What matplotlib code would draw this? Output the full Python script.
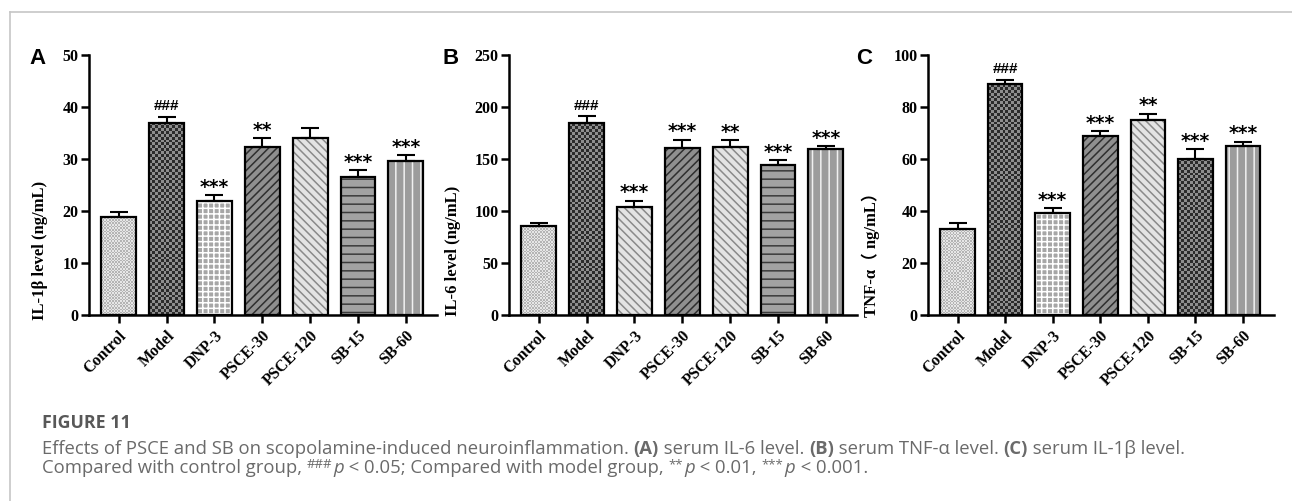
import numpy as np
import matplotlib
matplotlib.use('Agg')
import matplotlib.pyplot as plt
from matplotlib.colors import ListedColormap
from matplotlib.lines import Line2D

# Data
groups = ['Control', 'Model', 'DNP-3', 'PSCE-30', 'PSCE-120', 'SB-15', 'SB-60']

il1b_mean = [18.9, 37.0, 22.0, 32.4, 34.1, 26.6, 29.7]
il1b_err = [1.0, 1.1, 1.0, 1.6, 1.8, 1.2, 1.0]
il1b_sig = ['', '###', '***', '**', '', '***', '***']

il6_mean = [86.0, 184.2, 104.3, 160.1, 161.4, 144.7, 159.8]
il6_err = [2.9, 7.1, 5.5, 8.1, 6.4, 3.9, 2.3]
il6_sig = ['', '###', '***', '***', '**', '***', '***']

tnf_mean = [33.0, 88.7, 39.4, 68.9, 75.0, 60.1, 65.1]
tnf_err = [2.2, 1.7, 1.7, 1.7, 2.5, 3.6, 1.5]
tnf_sig = ['', '###', '***', '***', '**', '***', '***']

# fill styles per bar (panel A, B, C)
styles_a = ['fine', 'checker', 'grid', 'ne', 'nw', 'hline', 'vline']
styles_b = ['fine', 'checker', 'nw', 'ne', 'nw', 'hline', 'vline']
styles_c = ['fine', 'checker', 'grid', 'ne', 'nw', 'checker', 'vline']

plt.rcParams['hatch.linewidth'] = 1.1
serif = 'Liberation Serif'


def pattern_fill(ax, bar, cell_px, c1, c2):
    x0, y0 = bar.get_x(), bar.get_y()
    w, h = bar.get_width(), bar.get_height()
    p0 = ax.transData.transform((x0, y0))
    p1 = ax.transData.transform((x0 + w, y0 + h))
    nx = max(1, int(round((p1[0] - p0[0]) / cell_px)))
    ny = max(1, int(round((p1[1] - p0[1]) / cell_px)))
    grid = np.add.outer(np.arange(ny), np.arange(nx)) % 2
    img = ax.imshow(grid, cmap=ListedColormap([c1, c2]), extent=(x0, x0 + w, y0, y0 + h),
                    origin='lower', interpolation='nearest', aspect='auto', zorder=2)
    img.set_clip_path(bar)


def hatch_bar(ax, x, h, face, hatch, hcolor):
    ax.bar(x, h, width=0.73, color=face, edgecolor=hcolor, hatch=hatch, linewidth=0, zorder=2)


def draw_panel(ax, means, errs, sig, styles, ymax, ystep, ylabel, letter, lx, ylx):
    x = np.arange(len(groups))
    ax.set_xlim(-0.62, 6.65)
    ax.set_ylim(0, ymax)
    outline = ax.bar(x, means, width=0.73, fill=False, edgecolor='black', linewidth=1.6, zorder=4)
    for xi, m, st, b in zip(x, means, styles, outline):
        if st == 'fine':
            pattern_fill(ax, b, 1.6, '#e6e6e6', '#b4b4b4')
        elif st == 'checker':
            pattern_fill(ax, b, 2.9, '#2b2b2b', '#8e8e8e')
        elif st == 'grid':
            hatch_bar(ax, xi, m, '#a6a6a6', '+++', 'white')
        elif st == 'ne':
            hatch_bar(ax, xi, m, '#8f8f8f', '////', '#2e2e2e')
        elif st == 'nw':
            hatch_bar(ax, xi, m, '#e4e4e4', '\\\\\\\\', '#8a8a8a')
        elif st == 'hline':
            hatch_bar(ax, xi, m, '#a2a2a2', '--', '#3a3a3a')
        elif st == 'vline':
            hatch_bar(ax, xi, m, '#9c9c9c', '||', '#f0f0f0')
    ax.errorbar(x, means, yerr=[np.zeros(len(errs)), errs], fmt='none', ecolor='black',
                elinewidth=1.5, capsize=6.5, capthick=1.5, zorder=3)
    for xi, m, e, s in zip(x, means, errs, sig):
        if not s:
            continue
        if s.startswith('#'):
            ax.annotate(s, (xi, m + e), xytext=(0, 2.5), textcoords='offset points',
                        ha='center', va='bottom', fontsize=11, fontweight='bold',
                        fontfamily='Liberation Sans')
        else:
            ax.annotate(s, (xi, m + e), xytext=(0, -1), textcoords='offset points',
                        ha='center', va='bottom', fontsize=13.5, fontweight='bold',
                        fontfamily='DejaVu Sans')

    ax.set_yticks(np.arange(0, ymax + 1, ystep))
    ax.set_xticks(x)
    ax.set_xticklabels(groups, rotation=45, ha='right', rotation_mode='anchor',
                       fontsize=11.5, fontweight='bold', fontfamily=serif)
    for lab in ax.get_yticklabels():
        lab.set_fontsize(11.5)
        lab.set_fontweight('bold')
        lab.set_fontfamily(serif)
    ax.tick_params(axis='both', direction='out', width=1.8, length=6, pad=1.5)
    ax.tick_params(axis='x', pad=3)
    for sp in ['top', 'right']:
        ax.spines[sp].set_visible(False)
    for sp in ['left', 'bottom']:
        ax.spines[sp].set_linewidth(1.8)
    ax.set_ylabel(ylabel, fontsize=12, fontweight='bold', fontfamily=[serif, 'Noto Sans CJK SC'])
    ax.yaxis.set_label_coords(ylx, 0.5, transform=fig.transFigure)
    fig.text(lx, 1 - 58 / 501, letter, fontsize=16, fontweight='bold',
             fontfamily='Liberation Sans', va='center', ha='left')


fig = plt.figure(figsize=(12.92, 5.01), dpi=100)
W, H = 1292, 501
bot = 1 - 315 / H
hgt = 260 / H
ax_a = fig.add_axes([89 / W, bot, 348 / W, hgt])
ax_b = fig.add_axes([509 / W, bot, 348 / W, hgt])
ax_c = fig.add_axes([928 / W, bot, 346 / W, hgt])

draw_panel(ax_a, il1b_mean, il1b_err, il1b_sig, styles_a, 50, 10,
           'IL-1β level (ng/mL)', 'A', 29 / W, 48 / W)
draw_panel(ax_b, il6_mean, il6_err, il6_sig, styles_b, 250, 50,
           'IL-6 level (ng/mL)', 'B', 442 / W, 461 / W)
draw_panel(ax_c, tnf_mean, tnf_err, tnf_sig, styles_c, 100, 20,
           'TNF-α（ ng/mL）', 'C', 856 / W, 880 / W)

# frame lines of the figure box
fig.add_artist(Line2D([10 / W, 1], [1 - 12 / H, 1 - 12 / H], color='#c6c6c6', lw=1.2))
fig.add_artist(Line2D([10 / W, 10 / W], [0, 1 - 12 / H], color='#c6c6c6', lw=1.2))

# caption
cap_color = '#6a6a6a'
cap_size = 13.3
fig.text(42 / W, 1 - 428 / H, 'FIGURE 11', fontsize=12.8, fontweight='bold',
         fontfamily='Open Sans', color='#585858', va='baseline')

renderer = fig.canvas.get_renderer()


def caption_line(x_px, base_px, pieces):
    # lay out mixed-style pieces one after another on a shared baseline
    x = x_px
    for txt, wt, sty, sup in pieces:
        fs = cap_size * 0.72 if sup else cap_size
        y = base_px - (5 if sup else 0)
        t = fig.text(x / W, 1 - y / H, txt, fontsize=fs, fontweight=wt, fontstyle=sty,
                     fontfamily='Open Sans', color=cap_color, ha='left', va='baseline')
        x += t.get_window_extent(renderer).width + (1.5 if sup else 0)


caption_line(42, 454, [
    ('Effects of PSCE and SB on scopolamine-induced neuroinflammation. ', 'normal', 'normal', False),
    ('(A)', 'bold', 'normal', False),
    (' serum IL-6 level. ', 'normal', 'normal', False),
    ('(B)', 'bold', 'normal', False),
    (' serum TNF-α level. ', 'normal', 'normal', False),
    ('(C)', 'bold', 'normal', False),
    (' serum IL-1β level.', 'normal', 'normal', False),
])
caption_line(42, 473, [
    ('Compared with control group, ', 'normal', 'normal', False),
    ('###', 'normal', 'normal', True),
    ('p', 'normal', 'italic', False),
    (' < 0.05; Compared with model group, ', 'normal', 'normal', False),
    ('**', 'normal', 'normal', True),
    ('p', 'normal', 'italic', False),
    (' < 0.01, ', 'normal', 'normal', False),
    ('***', 'normal', 'normal', True),
    ('p', 'normal', 'italic', False),
    (' < 0.001.', 'normal', 'normal', False),
])

fig.savefig('out.png', dpi=100)
